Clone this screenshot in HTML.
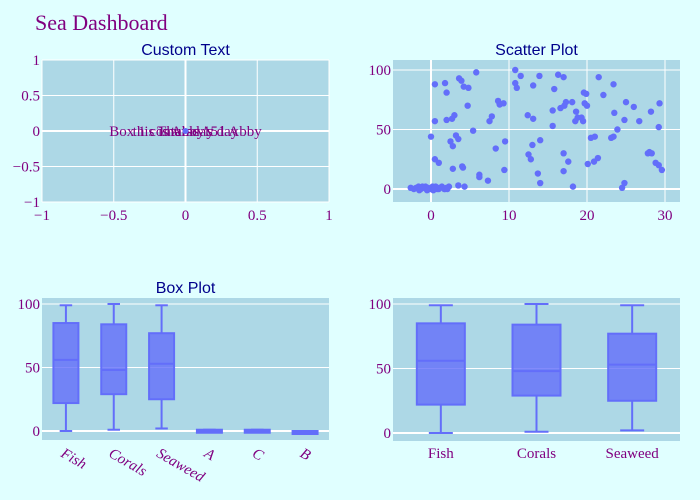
<!DOCTYPE html>
<html><head><meta charset="utf-8"><style>
body{margin:0;background:#e0ffff;}
svg{display:block;}
.tick{font-family:"Liberation Serif",serif;font-size:15px;fill:#800080;}
.st{font-family:"Liberation Sans",sans-serif;font-size:16px;fill:#00008b;}
</style></head><body>
<svg id="chart" width="700" height="500">
<rect width="700" height="500" fill="#e0ffff"/>
<text x="35" y="30" font-family="Liberation Serif,serif" font-size="22" fill="#800080">Sea Dashboard</text>
</svg>
<script>
const customTexts = ["Box 1 contains 151 Abby", "this is Abby's day", "Thursday"];
const scatterX = [0.5,0.5,0.5,1,0,1.8,2,2,2.7,3,2.5,2.8,3.2,3.5,2.8,3.5,4,4.3,3.6,3.9,4.2,4.8,4.7,5.4,5.8,6.2,6.2,7.3,7.5,7.8,8.3,8.6,8.8,9.3,9.5,9.4,10.8,10.8,11,11.5,12.4,12.5,12.8,13,13.1,13.1,13.7,13.9,14,14,15.6,15.6,15.8,16.3,16.6,17,17.1,17.3,17,17,17.6,18.1,18.2,18.5,18.6,18.8,19.3,19.5,19.6,19.9,19.7,20,20.1,20.5,20.9,21,21.4,21.5,22.1,23.1,23.4,23.5,23.4,23.9,24.5,24.8,24.8,25,26,26.7,27.8,28,28.2,28.3,28.8,29.2,29.2,29.3,29.6,
-2.6,-2.2,-1.9,-1.6,-1.3,-1,-0.7,-0.4,-0.1,0.2,0.5,0.8,1.1,1.4,1.7,2,2.3,-1.5,-0.5,0.3,1,1.8,-1.1,0.6,2.1,4.1];
const scatterY = [88,57,25,22,44,89,81,58,59,62,40,36,45,42,17,3,19,2,93,91,86,85,70,49,98,12,10,7,57,61,34,74,71,72,40,16,100,89,85,95,62,29,25,37,59,87,13,95,41,5,66,53,84,96,68,94,70,73,30,15,23,73,2,57,65,60,60,57,81,80,72,70,21,43,23,44,26,94,79,43,44,64,88,50,1,5,58,73,69,57,30,31,65,30,22,52,20,72,16,
1,0,1,2,0,1,2,1,0,2,1,0,1,2,0,1,2,-1,-1,-1,0,0,2,2,0,18];
const boxCats = ["Fish","Corals","Seaweed","A","C","B"];
const boxMin = [0,1,2,-1,-1,-2];
const boxQ1 = [22,29,25,-1,-1,-2];
const boxMed = [56,48,53,0,0,-1];
const boxQ3 = [85,84,77,1,1,0];
const boxMax = [99,100,99,1,1,0];
const box2Cats = ["Fish","Corals","Seaweed"];

const svg = document.getElementById('chart');
const NS = "http://www.w3.org/2000/svg";
function mk(tag, attrs, parent){const e=document.createElementNS(NS,tag);for(const k in attrs)e.setAttribute(k,attrs[k]);(parent||svg).appendChild(e);return e;}
function lin(d0,d1,r0,r1){return v=>r0+(v-d0)*(r1-r0)/(d1-d0);}

function panel(name,x0,y0,x1,y1,title){
  const g=mk('g',{});
  
  
  const r=mk('rect',{x:x0,y:y0,width:x1-x0,height:y1-y0,fill:'#add8e6'},g);
  
  
  if(title){const t=mk('text',{x:(x0+x1)/2,y:y0-5,'text-anchor':'middle',class:'st'},g);t.textContent=title;
    
    }
  return g;
}
function grid(g,x0,y0,x1,y1,xs,ys,xticks,yticks,zx,zy){
  xticks.forEach(v=>{const p=xs(v);mk('line',{x1:p,x2:p,y1:y0,y2:y1,stroke:'#fff','stroke-width':v===0&&zx?2:1},g);
    const t=mk('text',{x:p,y:y1+18,'text-anchor':'middle',class:'tick'},g);t.textContent=v<0?'−'+(-v):String(v);
    
    });
  yticks.forEach(v=>{const p=ys(v);mk('line',{x1:x0,x2:x1,y1:p,y2:p,stroke:'#fff','stroke-width':v===0&&zy?2:1},g);
    const t=mk('text',{x:x0-2,y:p+5,'text-anchor':'end',class:'tick'},g);t.textContent=v<0?'−'+(-v):String(v);
    
    });
}

// Panel 1: custom text
{
 const x0=42,y0=60,x1=329,y1=202;
 const g=panel('custom-text-panel',x0,y0,x1,y1,'Custom Text');
 const xs=lin(-1,1,x0,x1), ys=lin(-1,1,y1,y0);
 grid(g,x0,y0,x1,y1,xs,ys,[-1,-0.5,0,0.5,1],[-1,-0.5,0,0.5,1],true,true);
 customTexts.forEach(s=>{const t=mk('text',{x:xs(0),y:ys(0)+5,'text-anchor':'middle','font-family':'Liberation Serif,serif','font-size':15,fill:'#800080'},g);t.textContent=s;
   
   });
 const c=mk('circle',{cx:xs(0),cy:ys(0),r:3,fill:'#636efa'},g);
 
 
}
// Panel 2: scatter
{
 const x0=393,y0=60,x1=680,y1=202;
 const g=panel('scatter-panel',x0,y0,x1,y1,'Scatter Plot');
 const xs=lin(0,30,431,665), ys=lin(0,100,189,70);
 grid(g,x0,y0,x1,y1,xs,ys,[0,10,20,30],[0,50,100],true,true);
 scatterX.forEach((v,i)=>{const c=mk('circle',{cx:xs(v),cy:ys(scatterY[i]),r:3.2,fill:'#636efa'},g);
   
   });
}
function boxes(g,cats,xs,ys,w,rot,labY){
  cats.forEach((c,i)=>{
    const cx=xs(i);
    const bg=mk('g',{},g);
    
    
    const st={stroke:'#636efa','stroke-width':2};
    mk('line',Object.assign({x1:cx,x2:cx,y1:ys(boxMax[i]),y2:ys(boxQ3[i])},st),bg);
    mk('line',Object.assign({x1:cx,x2:cx,y1:ys(boxQ1[i]),y2:ys(boxMin[i])},st),bg);
    mk('line',Object.assign({x1:cx-w/4,x2:cx+w/4,y1:ys(boxMax[i]),y2:ys(boxMax[i])},st),bg);
    mk('line',Object.assign({x1:cx-w/4,x2:cx+w/4,y1:ys(boxMin[i]),y2:ys(boxMin[i])},st),bg);
    const top=ys(boxQ3[i]),bot=ys(boxQ1[i]);
    mk('rect',Object.assign({x:cx-w/2,y:top,width:w,height:Math.max(bot-top,3),fill:'rgba(99,110,250,0.8)'},st),bg);
    mk('line',Object.assign({x1:cx-w/2,x2:cx+w/2,y1:ys(boxMed[i]),y2:ys(boxMed[i])},st),bg);
    const t=mk('text',rot?{x:cx-6,y:labY,class:'tick','font-style':'italic',transform:`rotate(30 ${cx-6} ${labY})`}:{x:cx,y:labY,'text-anchor':'middle',class:'tick'},g);
    t.textContent=c;
    
    
  });
}
// Panel 3: box plot
{
 const x0=42,y0=298,x1=329,y1=440;
 const g=panel('box-plot-panel',x0,y0,x1,y1,'Box Plot');
 const ys=lin(0,100,431,304);
 grid(g,x0,y0,x1,y1,null,ys,[],[0,50,100],false,true);
 const xs=i=>x0+(i+0.5)*(x1-x0)/boxCats.length;
 boxes(g,boxCats,xs,ys,25,true,456);
}
// Panel 4: box plot 2
{
 const x0=393,y0=298,x1=680,y1=441;
 const g=panel('box-plot-2-panel',x0,y0,x1,y1,null);
 const ys=lin(0,100,433,304);
 grid(g,x0,y0,x1,y1,null,ys,[],[0,50,100],false,true);
 const xs=i=>x0+(i+0.5)*(x1-x0)/box2Cats.length;
 boxes(g,box2Cats,xs,ys,48,false,458);
}
</script>
</body></html>
